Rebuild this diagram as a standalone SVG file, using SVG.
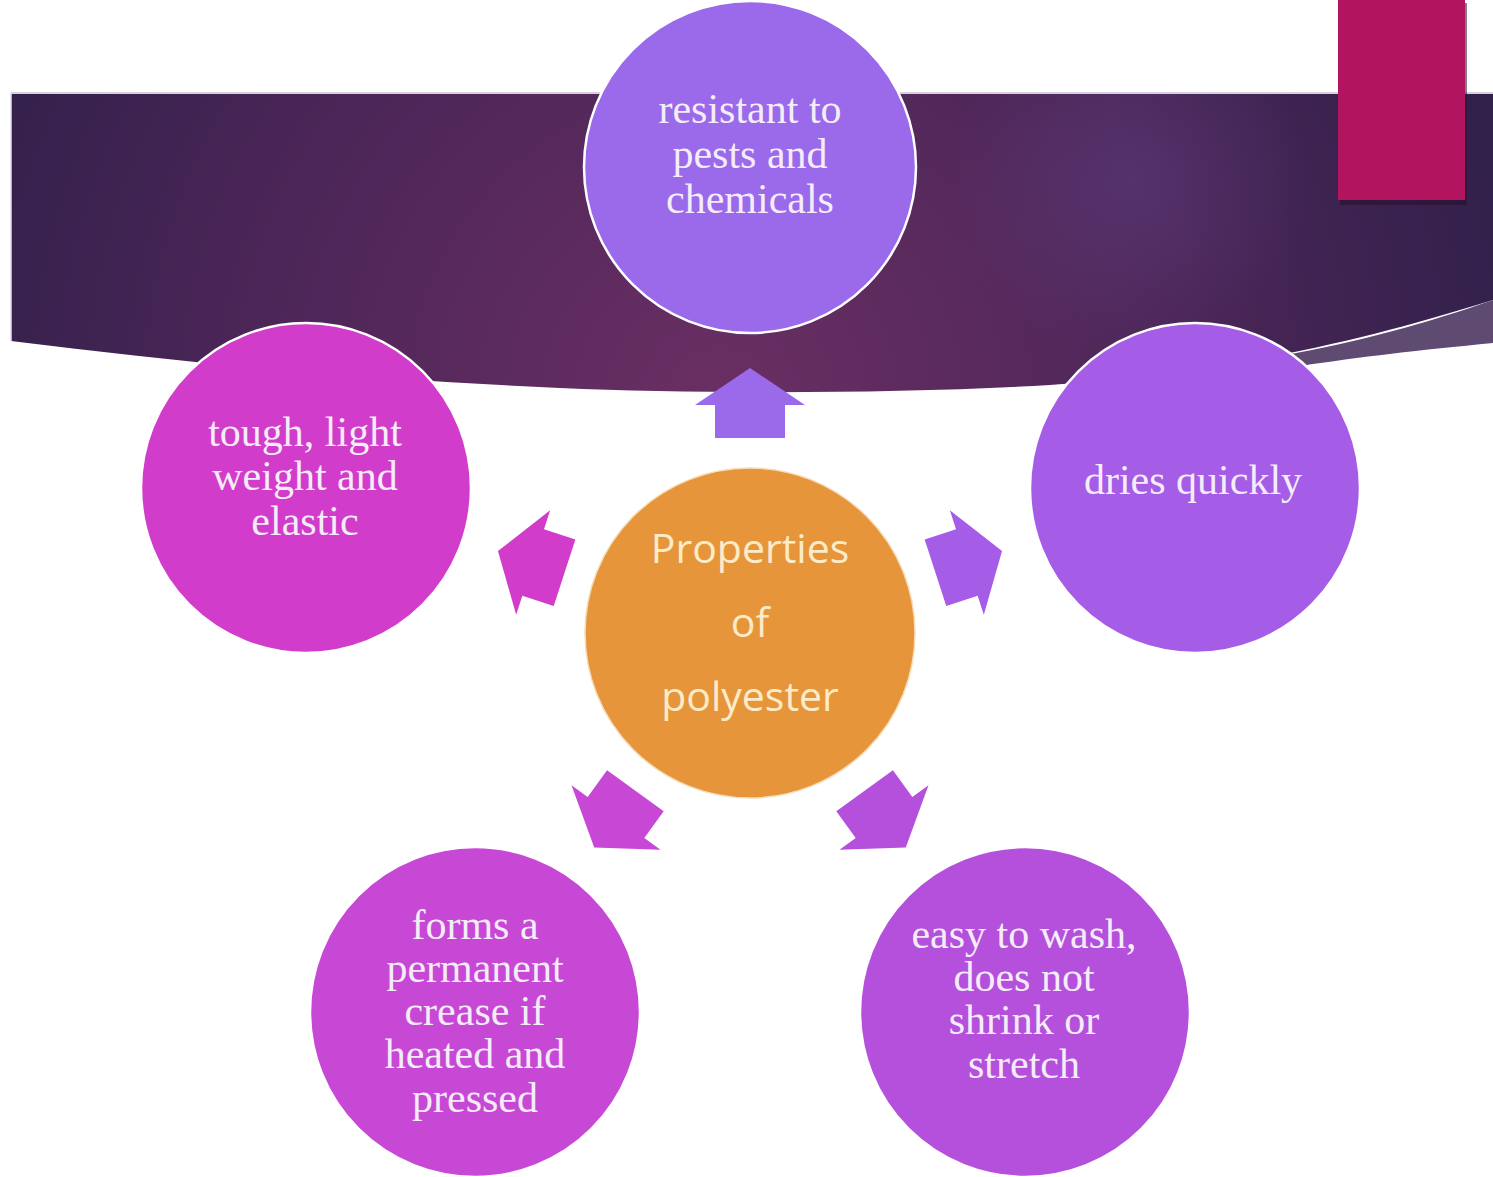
<svg xmlns="http://www.w3.org/2000/svg" width="1493" height="1177" viewBox="0 0 1493 1177">
<defs>
<radialGradient id="bannerGrad" cx="720" cy="400" r="820" gradientUnits="userSpaceOnUse">
<stop offset="0" stop-color="#6a2f63"/>
<stop offset="0.55" stop-color="#4d2658"/>
<stop offset="1" stop-color="#30204a"/>
</radialGradient>
<radialGradient id="glow" cx="1130" cy="180" r="180" gradientUnits="userSpaceOnUse">
<stop offset="0" stop-color="#5b3a7a" stop-opacity="0.6"/>
<stop offset="1" stop-color="#5b3a7a" stop-opacity="0"/>
</radialGradient>
<style>
.node{stroke:#ffffff;stroke-width:2.5}
.lbl{font-family:"Liberation Serif","Times New Roman",serif;font-size:42px;fill:#f4ecf8;text-anchor:middle}
.ctr{font-family:"Open Sans","Noto Sans",sans-serif;font-size:41px;fill:#fcebc8;text-anchor:middle}
</style>
</defs>
<rect width="1493" height="1177" fill="#ffffff"/>
<g id="banner">
<path d="M11,93 L1493,93 L1493,300 C1380,335 1250,370 1050,385 C900,394 700,394 560,388 C380,380 200,365 11,341 Z" fill="url(#bannerGrad)"/>
<path d="M11,93 L1493,93 L1493,300 C1380,335 1250,370 1050,385 C900,394 700,394 560,388 C380,380 200,365 11,341 Z" fill="url(#glow)"/>
<path d="M1280,356 C1360,342 1430,322 1493,300 L1493,343 C1420,350 1360,357 1300,366 Z" fill="#5f4a72"/>
<line x1="11" y1="93" x2="1493" y2="93" stroke="#d9d0de" stroke-width="2"/>
<line x1="11" y1="93" x2="11" y2="341" stroke="#e4dde8" stroke-width="1.5"/>
</g>
<g id="corner-tab">
<rect x="1340" y="3" width="127" height="202" fill="#2a0f2e" opacity="0.55"/>
<rect x="1338" y="0" width="127" height="200" fill="#b3145f"/>
</g>
<g id="connectors">
<polygon points="715,438 785,438 785,405 805,405 750,368 695,405 715,405" fill="#9a6aea"/>
<polygon points="715,438 785,438 785,405 805,405 750,368 695,405 715,405" fill="#a55ce6" transform="rotate(72 750 633)"/>
<polygon points="715,438 785,438 785,405 805,405 750,368 695,405 715,405" fill="#b550dc" transform="rotate(144 750 633)"/>
<polygon points="715,438 785,438 785,405 805,405 750,368 695,405 715,405" fill="#c848d6" transform="rotate(-144 750 633)"/>
<polygon points="715,438 785,438 785,405 805,405 750,368 695,405 715,405" fill="#d23ccb" transform="rotate(-72 750 633)"/>
</g>
<g id="node-center">
<circle cx="750" cy="633" r="165" fill="#e6953a" stroke="#f6dcb8" stroke-width="1.5"/>
<text class="ctr" x="750" y="563">Properties</text>
<text class="ctr" x="750" y="637">of</text>
<text class="ctr" x="750" y="711">polyester</text>
</g>
<g id="node-top">
<circle class="node" cx="750" cy="167" r="166" fill="#9a6aea"/>
<text class="lbl" x="750" y="123">resistant to</text>
<text class="lbl" x="750" y="168">pests and</text>
<text class="lbl" x="750" y="213">chemicals</text>
</g>
<g id="node-right">
<circle class="node" cx="1195" cy="488" r="165" fill="#a55ce6"/>
<text class="lbl" x="1193" y="494">dries quickly</text>
</g>
<g id="node-bottom-right">
<circle class="node" cx="1025" cy="1012" r="165" fill="#b550dc"/>
<text class="lbl" x="1024" y="948">easy to wash,</text>
<text class="lbl" x="1024" y="991">does not</text>
<text class="lbl" x="1024" y="1034">shrink or</text>
<text class="lbl" x="1024" y="1078">stretch</text>
</g>
<g id="node-bottom-left">
<circle class="node" cx="475" cy="1012" r="165" fill="#c848d6"/>
<text class="lbl" x="475" y="939">forms a</text>
<text class="lbl" x="475" y="982">permanent</text>
<text class="lbl" x="475" y="1025">crease if</text>
<text class="lbl" x="475" y="1068">heated and</text>
<text class="lbl" x="475" y="1112">pressed</text>
</g>
<g id="node-left">
<circle class="node" cx="306" cy="488" r="165" fill="#d23ccb"/>
<text class="lbl" x="305" y="446">tough, light</text>
<text class="lbl" x="305" y="490">weight and</text>
<text class="lbl" x="305" y="535">elastic</text>
</g>
</svg>
